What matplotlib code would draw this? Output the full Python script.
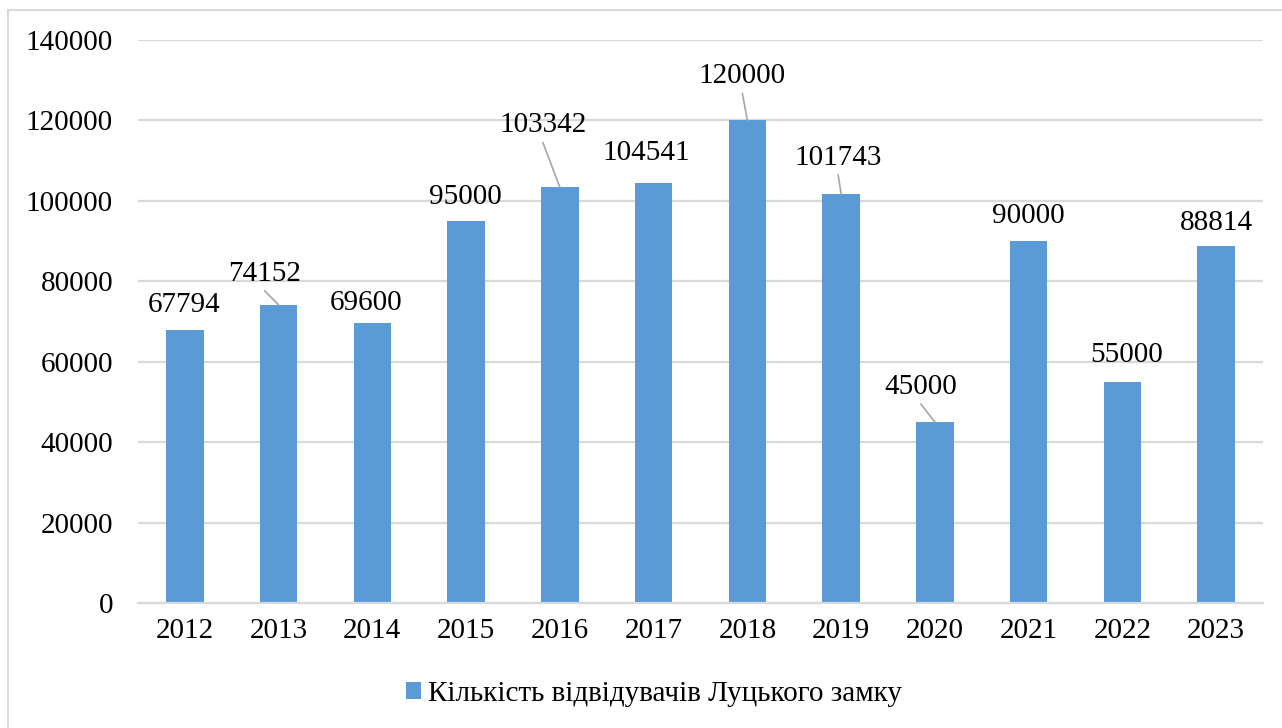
import matplotlib
matplotlib.use("Agg")
import matplotlib.pyplot as plt
from matplotlib.patches import Rectangle

# ---- data ----
years = ["2012", "2013", "2014", "2015", "2016", "2017",
         "2018", "2019", "2020", "2021", "2022", "2023"]
visitors = [67794, 74152, 69600, 95000, 103342, 104541,
            120000, 101743, 45000, 90000, 55000, 88814]
series_name = "Кількість відвідувачів Луцького замку"
y_ticks = [0, 20000, 40000, 60000, 80000, 100000, 120000, 140000]

# ---- label layout (pixel offsets from bar top centre to text baseline centre) ----
label_dx = [-1, -14, -6, -1, -17, -7, -5, -3, -14, 0, 4, 0]
label_dy = [18, 24, 13, 17, 55, 23, 37, 29, 28, 18, 20, 16]
leader = [False, True, False, False, True, False, True, True, True, False, False, False]

plt.rcParams['font.family'] = ['Liberation Serif', 'DejaVu Serif']
FS = 21

W, H = 1282, 728
fig = plt.figure(figsize=(W / 100, H / 100), dpi=100)
fig.patch.set_facecolor("white")

# outer border
fig.patches.append(Rectangle((8 / W, -0.05), 1.2, 1 - 10 / H + 0.05,
                             transform=fig.transFigure, fill=False,
                             edgecolor="#d9d9d9", linewidth=1.5, zorder=0))

ax = fig.add_axes([138 / W, 1 - 603 / H, (1263 - 138) / W, (603 - 40) / H])
x = list(range(len(years)))
bar_color = "#5b9bd5"
ax.bar(x, visitors, width=0.4, color=bar_color, zorder=3, label=series_name)

ax.set_xlim(-0.5, len(years) - 0.5)
ax.set_ylim(0, 140000)
ax.set_yticks(y_ticks)
ax.set_yticklabels([str(v) for v in y_ticks])
ax.set_xticks(x)
ax.set_xticklabels(years)
ax.tick_params(axis="both", length=0, labelsize=FS, colors="black")
ax.tick_params(axis="y", pad=18)
ax.tick_params(axis="x", pad=11)

ax.grid(axis="y", color="#d9d9d9", linewidth=1.6, zorder=0)
for s in ["top", "right", "left"]:
    ax.spines[s].set_visible(False)
ax.spines["bottom"].set_color("#d9d9d9")
ax.spines["bottom"].set_linewidth(1.6)
ax.spines["bottom"].set_zorder(4)

for i, v in enumerate(visitors):
    ax.annotate(str(v), xy=(i, v), xytext=(label_dx[i], label_dy[i]),
                textcoords="offset pixels", ha="center", va="baseline",
                fontsize=FS, color="black", zorder=5)
    if leader[i]:
        ax.annotate("", xy=(i, v), xytext=(label_dx[i], label_dy[i] - 10),
                    textcoords="offset pixels",
                    arrowprops=dict(arrowstyle="-", color="#a6a6a6", lw=1.2,
                                    shrinkA=0, shrinkB=0), zorder=4)

leg = fig.legend(loc="center", bbox_to_anchor=(654 / W, 1 - 694 / H),
                 frameon=False, fontsize=FS, handlelength=0.53,
                 handleheight=0.53, handletextpad=0.25, borderpad=0)

fig.savefig("out.png", dpi=100, facecolor="white")
